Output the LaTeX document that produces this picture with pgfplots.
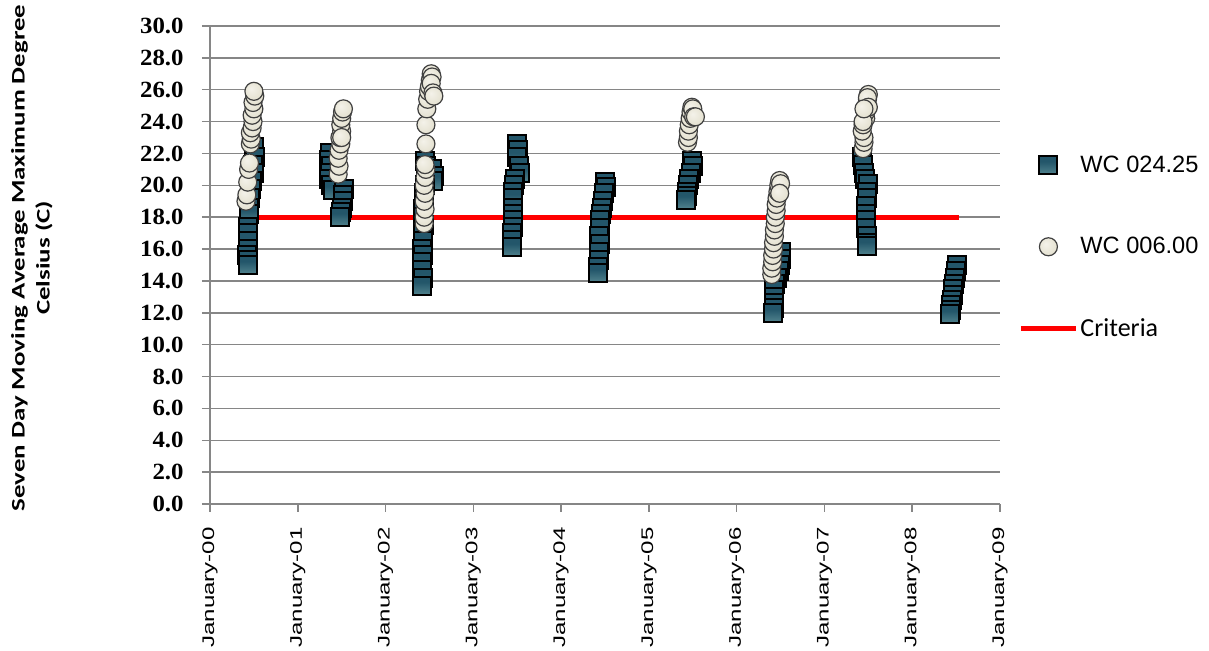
\documentclass[border=0pt]{standalone}
\usepackage{fontspec}
\setmainfont{Liberation Sans}
\newfontfamily\carlito{Carlito}
\newfontfamily\lserif{Liberation Serif}
\usepackage{graphicx}
\usepackage{pgfplots}
\pgfplotsset{compat=1.18}

\definecolor{gridgray}{HTML}{868686}
\definecolor{tealdark}{HTML}{23566A}
\definecolor{tealmid}{HTML}{4A7C88}
\definecolor{teallight}{HTML}{9AB4BA}
\definecolor{beige}{HTML}{E6E3D3}
\definecolor{beigelight}{HTML}{F4F2EA}
\definecolor{beigedark}{HTML}{B5B19E}

\pgfdeclareverticalshading{tealgrad}{100bp}{color(0bp)=(teallight); color(30bp)=(tealmid); color(60bp)=(tealdark); color(100bp)=(tealdark)}
\pgfdeclareradialshading{beigeball}{\pgfpoint{-8bp}{8bp}}{color(0bp)=(beigelight); color(25bp)=(beige); color(50bp)=(beigedark)}

\pgfdeclareplotmark{tsq}{%
  \pgfpathrectangle{\pgfqpoint{-\pgfplotmarksize}{-\pgfplotmarksize}}{\pgfqpoint{2\pgfplotmarksize}{2\pgfplotmarksize}}%
  \pgfshadepath{tealgrad}{0}%
  \pgfusepathqstroke
}
\pgfdeclareplotmark{bcirc}{%
  \pgfpathcircle{\pgfpointorigin}{\pgfplotmarksize}%
  \pgfshadepath{beigeball}{0}%
  \pgfusepathqstroke
}

\begin{document}
\begin{tikzpicture}
\begin{axis}[
  at={(0,0)}, anchor=south west,
  width=395pt, height=239pt, scale only axis,
  xmin=0, xmax=9, ymin=0, ymax=30,
  axis lines*=left,
  axis line style={draw=gridgray, line width=0.75pt},
  ymajorgrids, grid style={draw=gridgray, line width=0.75pt},
  tick style={draw=gridgray, line width=0.75pt},
  tick align=outside, major tick length=4pt,
  xtick={0,1,2,3,4,5,6,7,8,9},
  xticklabels={\scalebox{1.43}[1]{January-00},\scalebox{1.43}[1]{January-01},\scalebox{1.43}[1]{January-02},\scalebox{1.43}[1]{January-03},\scalebox{1.43}[1]{January-04},\scalebox{1.43}[1]{January-05},\scalebox{1.43}[1]{January-06},\scalebox{1.43}[1]{January-07},\scalebox{1.43}[1]{January-08},\scalebox{1.43}[1]{January-09}},
  xticklabel style={rotate=90, anchor=east, font=\fontsize{8.4}{8.4}\selectfont, inner xsep=7.5pt, inner ysep=0pt},
  ytick={0,2,...,30},
  yticklabel={\scalebox{1.07}[1]{\pgfmathprintnumber[fixed,fixed zerofill,precision=1,assume math mode=true]{\tick}}},
  yticklabel style={font=\lserif\bfseries\fontsize{11.6}{11.6}\selectfont, inner xsep=9pt},
  ylabel={\scalebox{1.4}[1]{\begin{tabular}{c}Seven Day Moving Average Maximum Degree\\Celsius (C)\end{tabular}}},
  ylabel style={at={(axis description cs:-0.225,0.515)}, anchor=center, font=\carlito\bfseries\fontsize{9.6}{12.5}\selectfont},
  legend style={at={(axis description cs:1.0228,0.734)}, anchor=north west, draw=none, fill=none, inner sep=0pt, row sep=29pt, font=\fontsize{11.8}{12}\selectfont, nodes={inner sep=1pt}},
  legend cell align=left,
  legend image code/.code={\draw[mark repeat=2,mark phase=2,#1] plot coordinates {(-2pt,0pt) (11.75pt,0pt) (25.5pt,0pt)};},
  clip=false,
]
\addplot[red, line width=2.5pt, forget plot] coordinates {(0.45,18) (8.53,18)};

\addplot[only marks, mark=tsq, mark size=4.5pt, mark options={draw=black, line width=1pt}] coordinates {
(0.50,22.4) (0.51,21.8) (0.49,21.3) (0.50,20.8) (0.48,20.3) (0.47,19.8) (0.46,19.2) (0.45,18.6) (0.45,18.2)
(0.43,17.4) (0.43,17.0) (0.43,16.5) (0.43,16.0) (0.42,15.6) (0.43,15.3) (0.43,15.0)
(1.37,22.0) (1.36,21.6) (1.38,21.2) (1.37,20.8) (1.36,20.4) (1.38,20.0) (1.40,19.7) (1.53,19.8) (1.52,19.4) (1.51,19.0) (1.50,18.6) (1.49,18.3) (1.48,18.0)
(2.45,21.5) (2.46,21.2) (2.53,21.0) (2.55,20.6) (2.54,20.3) (2.45,20.0) (2.44,19.5) (2.44,19.0) (2.43,18.5) (2.43,18.0) (2.44,17.5) (2.43,17.0) (2.43,16.5) (2.42,16.0) (2.43,15.6) (2.42,15.2) (2.42,14.7) (2.43,14.2) (2.42,13.7)
(3.50,22.6) (3.51,22.2) (3.50,21.8) (3.52,21.2) (3.53,20.8) (3.47,20.4) (3.46,20.0) (3.45,19.6) (3.45,19.2) (3.45,18.6) (3.45,18.2) (3.45,17.8) (3.45,17.4) (3.44,17.0) (3.44,16.6) (3.44,16.1)
(4.50,20.2) (4.51,19.9) (4.49,19.5) (4.48,19.0) (4.47,18.6) (4.45,18.2) (4.44,17.8) (4.44,17.3) (4.43,16.8) (4.44,16.3) (4.43,15.8) (4.43,15.3) (4.42,14.9) (4.42,14.5)
(5.49,21.5) (5.50,21.2) (5.48,20.8) (5.46,20.4) (5.44,20.0) (5.43,19.6) (5.43,19.3) (5.42,19.1)
(6.51,15.8) (6.50,15.4) (6.49,15.0) (6.48,14.6) (6.46,14.2) (6.44,13.8) (6.43,13.4) (6.43,13.0) (6.42,12.6) (6.42,12.3) (6.41,12.0)
(7.43,21.8) (7.44,21.3) (7.45,20.8) (7.46,20.4) (7.50,20.1) (7.49,19.6) (7.48,19.2) (7.47,18.7) (7.47,18.2) (7.47,17.8) (7.47,17.3) (7.48,16.8) (7.48,16.4) (7.48,16.2)
(8.51,15.0) (8.50,14.6) (8.49,14.2) (8.48,13.8) (8.47,13.5) (8.46,13.1) (8.45,12.8) (8.44,12.5) (8.44,12.2) (8.43,11.9)
};
\addlegendentry{WC 024.25}

\addplot[only marks, mark=bcirc, mark size=4.5pt, mark options={draw=black!75, line width=0.6pt}] coordinates {
(0.41,19.0) (0.42,19.4) (0.43,20.2) (0.44,21.0) (0.45,21.4) (0.46,22.6) (0.47,22.9) (0.46,23.3) (0.48,23.6) (0.49,24.0) (0.48,24.4) (0.50,24.8) (0.49,25.2) (0.51,25.6) (0.50,25.9)
(1.46,20.7) (1.47,21.2) (1.46,21.7) (1.47,22.2) (1.49,22.6) (1.48,23.0) (1.50,23.4) (1.49,23.8) (1.50,24.2) (1.51,24.6) (1.52,24.8) (1.50,23.0)
(2.44,17.6) (2.44,18.0) (2.45,18.5) (2.44,19.0) (2.45,19.5) (2.44,20.0) (2.45,20.5) (2.46,21.0) (2.45,21.3) (2.46,22.6) (2.46,23.8) (2.47,24.8) (2.48,25.4) (2.49,25.9) (2.50,26.2) (2.51,26.6) (2.52,27.0) (2.53,26.8) (2.52,26.4) (2.54,25.8) (2.55,25.6)
(5.44,22.7) (5.45,23.0) (5.45,23.4) (5.46,23.8) (5.47,24.2) (5.48,24.6) (5.49,24.9) (5.50,24.8) (5.51,24.3) (5.53,24.3)
(6.40,14.4) (6.40,14.8) (6.41,15.2) (6.41,15.6) (6.42,16.0) (6.42,16.4) (6.43,16.8) (6.43,17.2) (6.44,17.6) (6.44,18.0) (6.45,18.4) (6.45,18.8) (6.46,19.2) (6.47,19.6) (6.48,20.0) (6.49,20.3) (6.50,20.1) (6.49,19.5)
(7.44,22.3) (7.45,22.7) (7.45,23.0) (7.43,23.4) (7.44,23.8) (7.47,24.2) (7.47,24.6) (7.48,25.0) (7.49,25.4) (7.50,25.7) (7.49,25.5) (7.50,24.9) (7.44,24.0) (7.45,24.8)
};
\addlegendentry{WC 006.00}

\addlegendimage{red, line width=2.5pt}
\addlegendentry{{\carlito\fontsize{13}{13}\selectfont Criteria}}
\end{axis}
\pgfresetboundingbox
\path (-105pt,-73.5pt) rectangle (499.5pt,252pt);
\end{tikzpicture}
\end{document}
